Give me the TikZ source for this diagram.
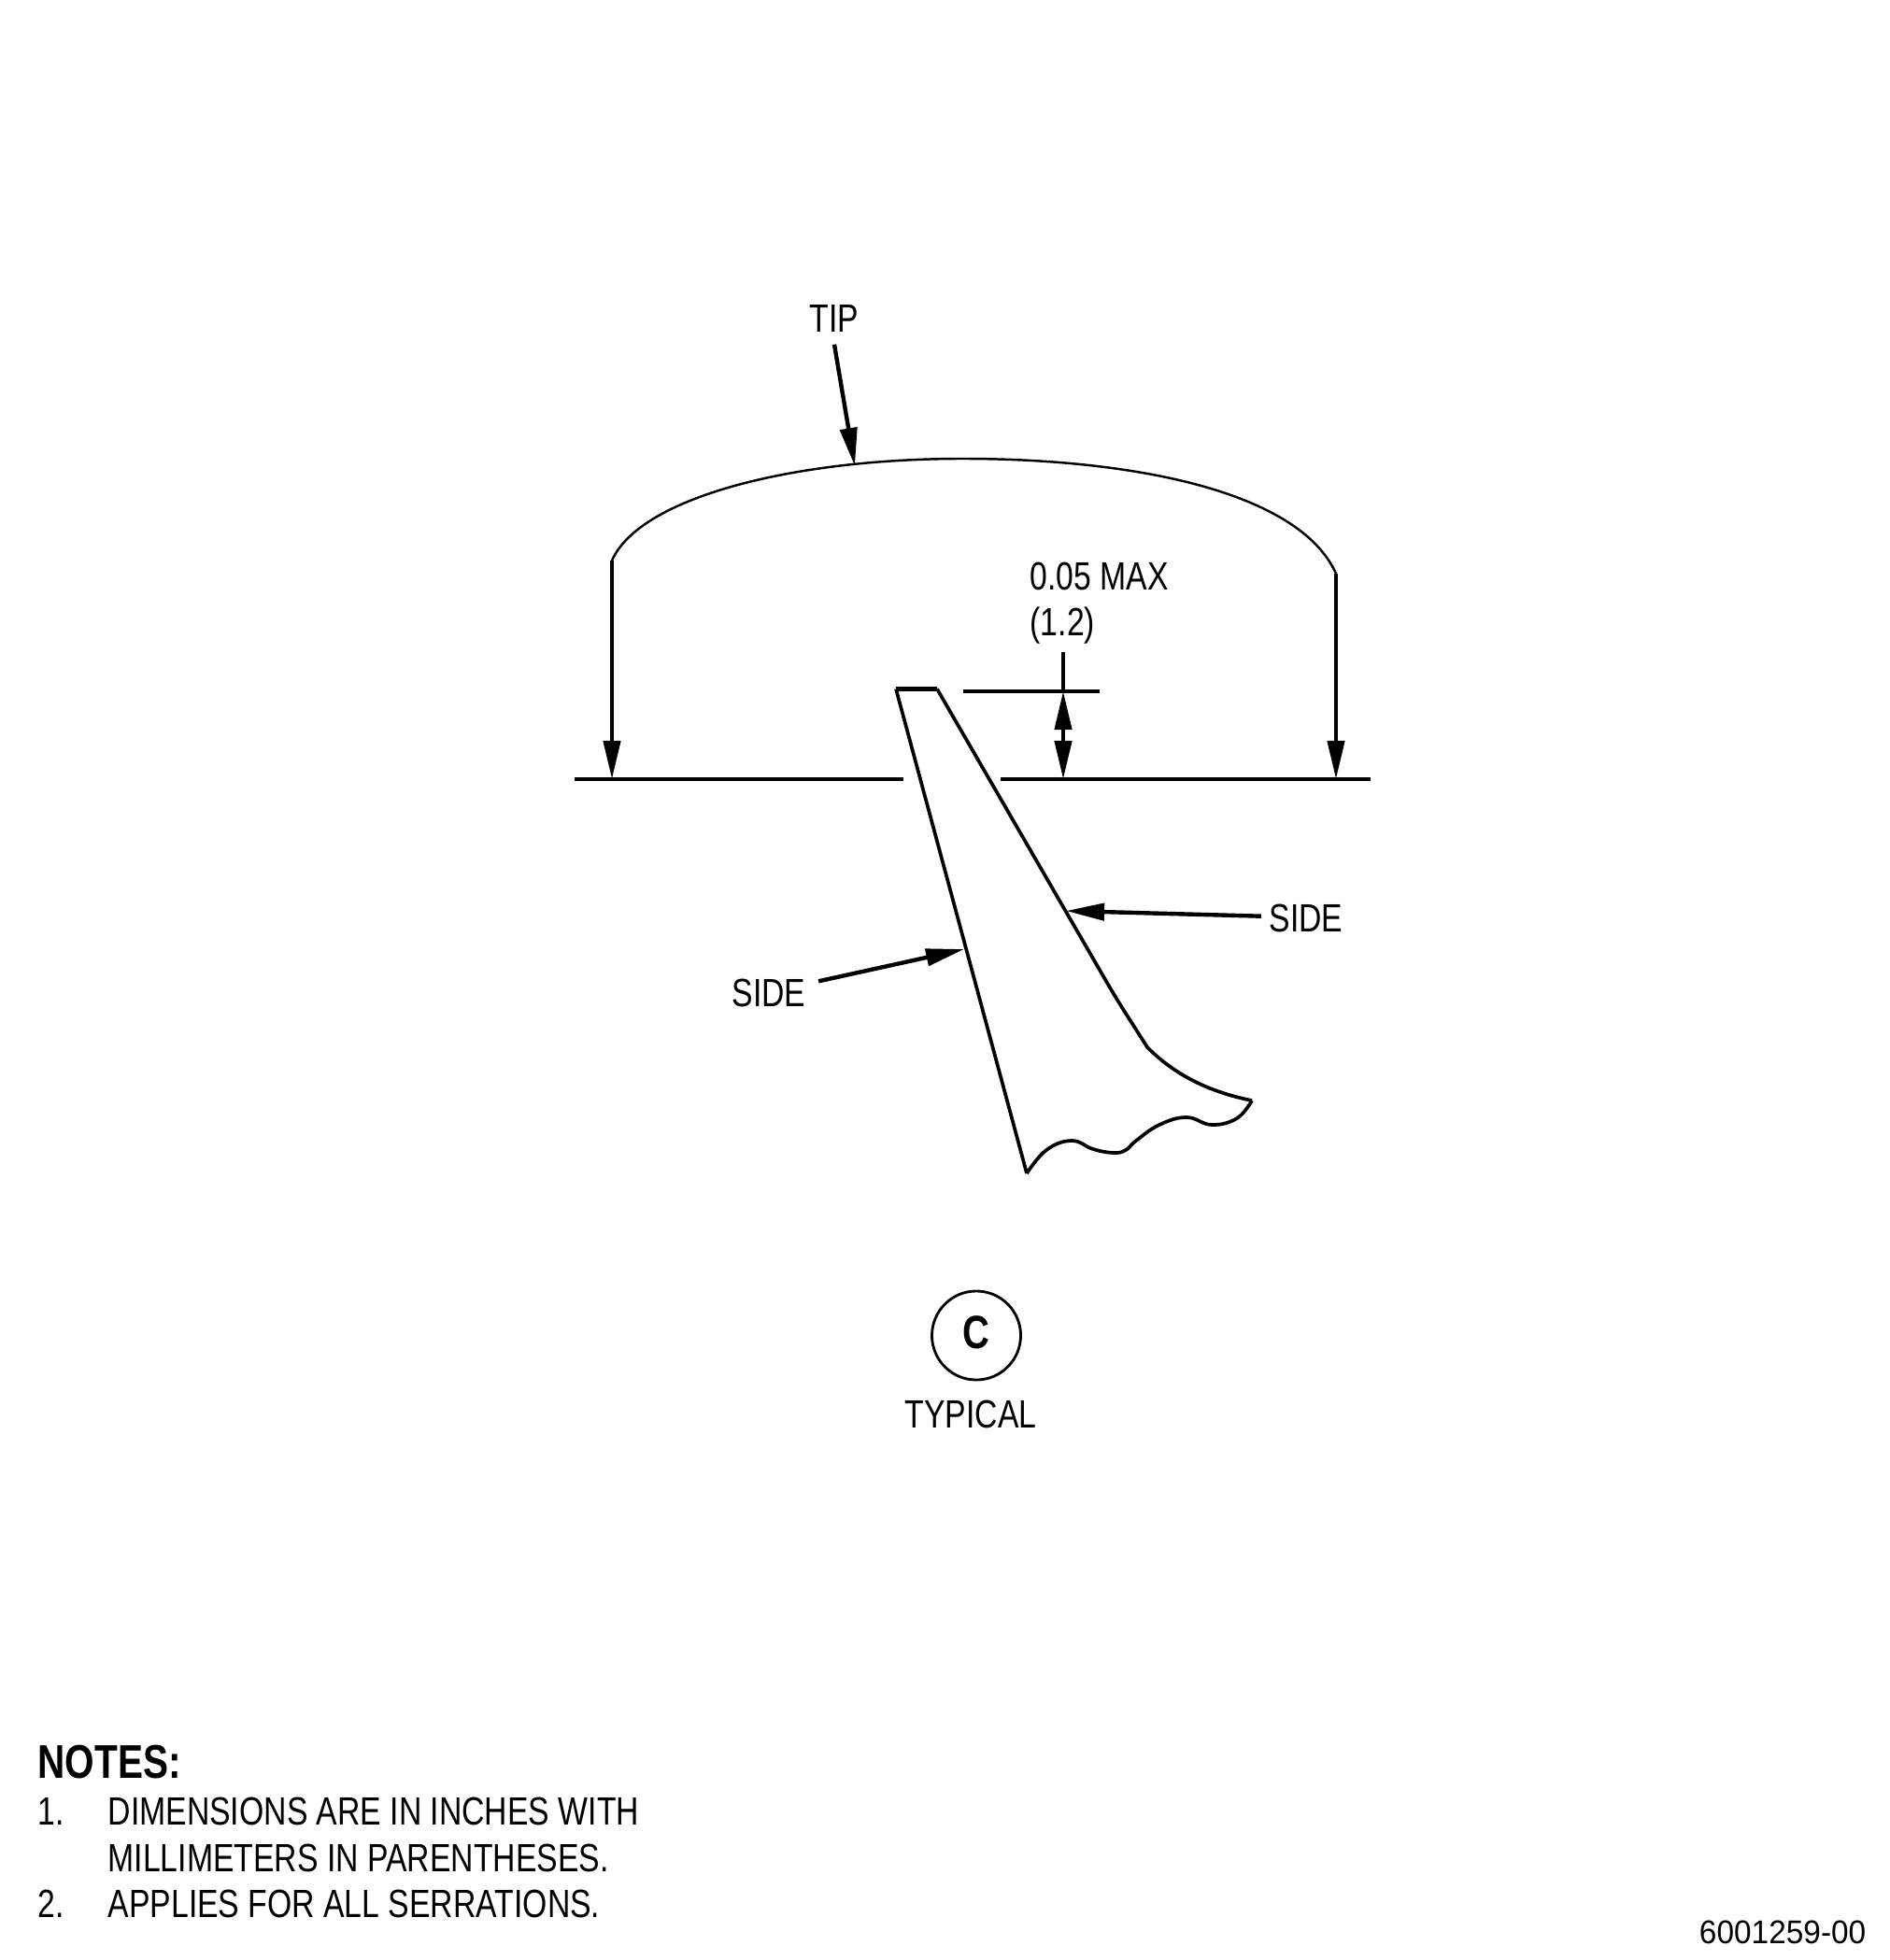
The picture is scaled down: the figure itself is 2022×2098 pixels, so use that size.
\documentclass[tikz,border=0pt]{standalone}
\usepackage{fontspec}
\setmainfont[FakeStretch=0.8]{Liberation Sans}
\newfontfamily\plainfont[FakeStretch=0.95]{Liberation Sans}
\usetikzlibrary{arrows.meta}
\tikzset{
    txt/.style={inner sep=0pt, anchor=base west, font=\fontsize{12}{14}\selectfont},
    boldtxt/.style={inner sep=0pt, anchor=base west, font=\fontsize{14.4}{16}\selectfont\bfseries},
    callout/.style={inner sep=0.13cm, text height=0.3cm, text depth=0pt, font=\fontsize{12}{14}\selectfont},
    thinline/.style={line width=0.7pt},
    heavyline/.style={line width=1.25pt},
    finline/.style={line width=1.05pt},
    dimarrow/.style={line width=1.25pt, -{Triangle[length=0.41cm,width=0.18cm]}}
}

\begin{document}
\begin{tikzpicture}[x=0.01cm, y=-0.01cm]
    \useasboundingbox (0,0) rectangle (2022,2098);

    % Tip profile
    \coordinate (arcleft) at (655,600);
    \coordinate (arcright) at (1430,614);
    \coordinate (tipmark) at (915,499);
    \draw[thinline] (arcleft) .. controls (685,532) and (850,491) .. (1030,491) .. controls (1210,491) and (1390,525) .. (arcright);

    % Base line
    \coordinate (baseleft) at (655,834);
    \coordinate (baseright) at (1430,834);
    \coordinate (basedim) at (1138,834);
    \draw[heavyline] (615,834) -- (967,834);
    \draw[heavyline] (1071,834) -- (1467,834);
    \draw[dimarrow] (arcleft) -- (baseleft);
    \draw[dimarrow] (arcright) -- (baseright);

    % Serration
    \coordinate (finleft) at (1032,1016);
    \coordinate (finright) at (1141,975);
    \draw[line width=1.4pt] (959,737.5) -- (1003,737.5);
    \draw[finline] (959,737.5) -- (1099,1256) plot[smooth, tension=0.7] coordinates {(1099,1256) (1120,1231) (1147,1221) (1170,1230) (1192,1234) (1205,1231) (1216,1221) (1241,1204) (1270,1196) (1297,1204) (1324,1197) (1340,1178)};
    \draw[finline] (1003,737.5) -- (1185,1052) .. controls (1200,1078) and (1215,1100) .. (1228,1121) .. controls (1255,1148) and (1290,1168) .. (1340,1178);

    % Height dimension
    \coordinate (dimtop) at (1138,740);
    \draw[heavyline] (1031,740) -- (1177,740);
    \draw[heavyline] (1138,698) -- (dimtop);
    \draw[line width=1.25pt, {Triangle[length=0.41cm,width=0.18cm]}-{Triangle[length=0.41cm,width=0.18cm]}] (dimtop) -- (basedim);
    \node[txt] (maxlabel) at (1102,632) {0.05 MAX};
    \node[txt] (mmlabel) at (1102,681) {(1.2)};

    % Callouts
    \node[callout] (tiplabel) at (893,340) {TIP};
    \draw[dimarrow] (tiplabel.south) -- (tipmark);
    \node[callout] (sideleft) at (823,1062) {SIDE};
    \draw[dimarrow] (sideleft) -- (finleft);
    \node[inner sep=0.08cm, text height=0.3cm, text depth=0pt, font=\fontsize{12}{14}\selectfont] (sideright) at (1398,982) {SIDE};
    \draw[dimarrow] (sideright) -- (finright);

    % Detail mark
    \node[draw, circle, line width=0.8pt, inner sep=0pt, minimum size=0.95cm, text depth=0.07cm, font=\fontsize{14.2}{16}\selectfont\bfseries] (detail) at (1045,1429.5) {C};
    \node[txt] (typical) at (968,1528) {TYPICAL};

    % Notes
    \node[boldtxt] (notes) at (40,1903) {NOTES:};
    \node[txt] (numone) at (40,1953) {1.};
    \node[txt] (noteone) at (115,1953) {DIMENSIONS ARE IN INCHES WITH};
    \node[txt] (noteonb) at (115,2003) {MILLIMETERS IN PARENTHESES.};
    \node[txt] (numtwo) at (40,2052) {2.};
    \node[txt] (notetwo) at (115,2052) {APPLIES FOR ALL SERRATIONS.};

    % Drawing number
    \node[inner sep=0pt, anchor=base east, font=\fontsize{10}{12}\selectfont\plainfont] (drawno) at (1998,2080) {6001259-00};
\end{tikzpicture}
\end{document}
